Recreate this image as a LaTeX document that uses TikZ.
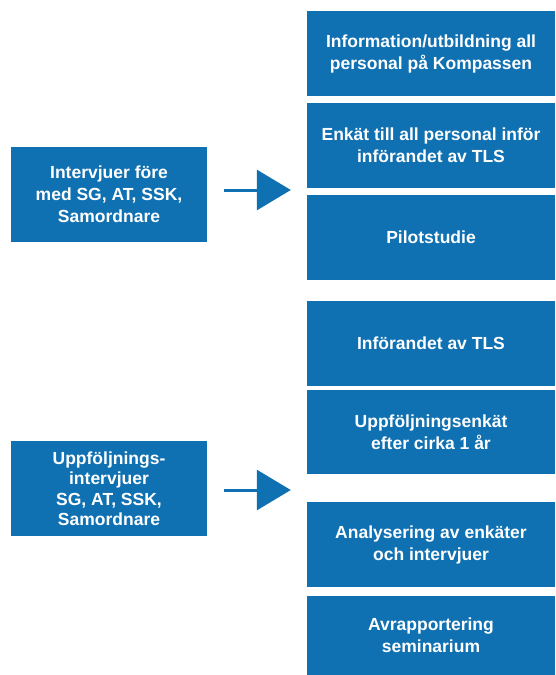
\documentclass[tikz,border=0pt]{standalone}
\usepackage{fontspec}
\setmainfont{Liberation Sans}
\usepackage{tikz}
\usetikzlibrary{arrows.meta}
\definecolor{boxblue}{HTML}{0F70B2}
\tikzset{
  box/.style={fill=boxblue, text=white, align=center, inner sep=0pt,
    font=\bfseries\fontsize{17.5}{22}\selectfont},
  rbox/.style={box, minimum width=248pt},
  lbox/.style={box, minimum width=196pt, minimum height=95pt},
  flow/.style={draw=boxblue, line width=3pt, -{Triangle[length=34pt, width=40pt]}},
}

\begin{document}
\begin{tikzpicture}[x=1pt, y=-1pt]
  \useasboundingbox (0,0) rectangle (555,675);

  % right column
  \node[rbox, minimum height=85pt] (info) at (431,53.5) {Information/utbildning all\\personal på Kompassen};
  \node[rbox, minimum height=85pt] (enkat) at (431,145.5) {Enkät till all personal inför\\införandet av TLS};
  \node[rbox, minimum height=85pt] (pilot) at (431,237.5) {Pilotstudie};
  \node[rbox, minimum height=85pt] (tls) at (431,343.5) {Införandet av TLS};
  \node[rbox, minimum height=84pt] (uppenkat) at (431,432) {Uppföljningsenkät\\efter cirka 1 år};
  \node[rbox, minimum height=85pt] (analys) at (431,544.5) {Analysering av enkäter\\och intervjuer};
  \node[rbox, minimum height=79pt] (rapport) at (431,635.5) {Avrapportering\\seminarium};

  % left column
  \node[lbox] (intfore) at (109,194.5) {Intervjuer före\\med SG, AT, SSK,\\Samordnare};
  \node[lbox, font=\bfseries\fontsize{17.5}{20.5}\selectfont] (intefter) at (109,488.5) {Uppföljnings-\\intervjuer\\SG, AT, SSK,\\Samordnare};

  % arrows
  \coordinate (a1) at ([xshift=17pt, yshift=4.5pt]intfore.east);
  \coordinate (a2) at ([xshift=17pt, yshift=-1.5pt]intefter.east);
  \draw[flow] (a1) -- ([xshift=-16pt]a1 -| pilot.west);
  \draw[flow] (a2) -- ([xshift=-16pt]a2 -| uppenkat.west);
\end{tikzpicture}
\end{document}
